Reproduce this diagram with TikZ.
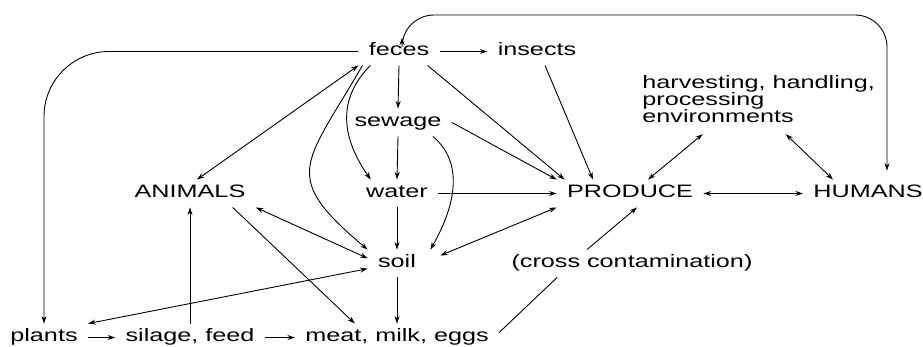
\documentclass[tikz,border=0pt]{standalone}
\usepackage{fontspec}
\setmainfont{Liberation Sans}[FakeStretch=1.4]
\usetikzlibrary{arrows.meta,positioning}

\tikzset{
  lbl/.style={inner xsep=10pt,inner ysep=5pt,text height=13pt,text depth=4pt},
  arr/.style={-{Stealth[length=7.5pt,width=5pt]}},
  darr/.style={{Stealth[length=7.5pt,width=5pt]}-{Stealth[length=7.5pt,width=5pt]}}
}

\begin{document}
\begin{tikzpicture}[x=1pt,y=1pt,line width=0.9pt,font=\fontsize{18}{17}\selectfont]

\useasboundingbox (0,0) rectangle (923,347);

% top row
\node[lbl] (feces) at (399,295.5) {feces};
\node[lbl] (insects) at (537,295.5) {insects};
\node[anchor=north west,align=left,inner xsep=0pt,inner ysep=11pt] (env) at (642,283)
  {harvesting, handling,\\processing\\environments};

% middle column
\node[lbl] (sewage) at (398,224.5) {sewage};
\node[lbl] (water) at (397,153.5) {water};
\node[lbl] (soil) at (397,83.5) {soil};

% main row
\node[lbl] (animals) at (190,153.5) {ANIMALS};
\node[lbl] (produce) at (630,153.5) {PRODUCE};
\node[lbl] (humans) at (868,153.5) {HUMANS};
\node[lbl] (cross) at (632,83.5) {(cross contamination)};

% bottom row
\node[lbl] (plants) at (44,9.5) {plants};
\node[lbl] (silage) at (190,9.5) {silage, feed};
\node[lbl] (meat) at (397,9.5) {meat, milk, eggs};

% loops round the outside
\coordinate (loop top) at (640,332);
\draw[darr,rounded corners=32pt,shorten >=9pt] ([xshift=3pt]feces.north) |- (loop top) -| ([xshift=19pt]humans.north);
\draw[arr,rounded corners=65pt] (feces.west) -| (plants.north);

% from feces
\draw[arr] (feces) -- (insects);
\draw[darr] (feces.south west) -- ([xshift=7pt]animals.north);
\draw[arr] (feces.south) -- (sewage.north);
\draw[arr] ([xshift=12pt]feces.south west) to[out=225,in=125,looseness=1.1] ([xshift=15pt]water.north west);
\draw[arr] ([xshift=4pt]feces.south west) to[out=240,in=140,looseness=1.6] (soil.north west);
\draw[arr] ([xshift=-12pt]feces.south east) -- ([xshift=8pt]produce.north west);
\draw[arr] ([xshift=8pt]insects.south) -- ([xshift=-37pt]produce.north);

% sewage and water
\draw[arr] (sewage.east) -- (produce.north west);
\draw[arr] (sewage.south) -- (water.north);
\draw[arr] ([xshift=-19pt]sewage.south east) to[out=-40,in=60] ([xshift=4pt]soil.north east);
\draw[arr] (water.east) -- (produce.west);
\draw[arr] (water.south) -- (soil.north);

% soil
\draw[darr] ([shift={(14pt,8pt)}]soil.east) -- (produce.south west);
\draw[darr] (animals.south east) -- (soil.170);
\draw[darr] (soil.190) -- (plants.north east);
\draw[arr] (soil.south) -- (meat.north);

% animals and feed
\draw[arr] ([xshift=-23pt]animals.south east) -- ([xshift=60pt]meat.north west);
\draw[arr] (silage.north) -- (animals.south);
\draw[arr] (plants.east) -- (silage.west);
\draw[arr] (silage.east) -- (meat.west);

% cross contamination
\draw ([yshift=5pt]meat.east) -- ([xshift=56pt]cross.south west);
\draw[arr] ([xshift=-45pt]cross.north) -- ([xshift=7pt]produce.south);

% produce, humans, environments
\draw[darr] (produce) -- (humans);
\draw[darr] ([xshift=-56pt]env.south) -- ([xshift=18pt]produce.north);
\draw[darr] ([xshift=27pt]env.south) -- ([xshift=-35pt]humans.north);

\end{tikzpicture}
\end{document}
